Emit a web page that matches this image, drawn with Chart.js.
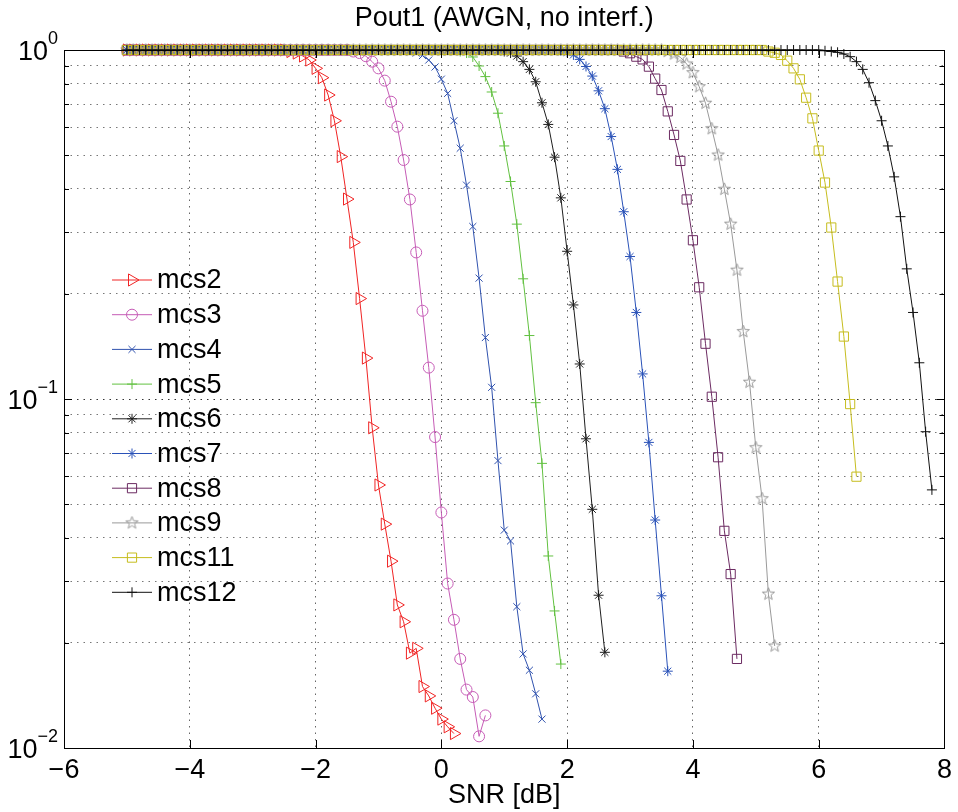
<!DOCTYPE html>
<html>
<head>
<meta charset="utf-8">
<title>Pout1 (AWGN, no interf.)</title>
<script src="https://cdn.jsdelivr.net/npm/chart.js@4.4.1/dist/chart.umd.min.js"></script>
<style>
  html, body { margin: 0; padding: 0; background: #fff; }
  #wrap { width: 958px; height: 812px; }
</style>
</head>
<body>
<div id="wrap"><canvas id="poutChart" width="958" height="812"></canvas></div>
<script>
// every curve is sampled from -5 dB in 0.1 dB steps; Pout sits at 1
// until the SNR where its own list starts
const snrFirst = -5;
const snrStep = 0.1;

const seriesNames = ["mcs2", "mcs3", "mcs4", "mcs5", "mcs6", "mcs7", "mcs8", "mcs9", "mcs11", "mcs12"];
const listStart = [-2.4, -1.4, -0.5, 0.3, 1.0, 1.9, 2.9, 3.6, 5.2, 6.1];

const mcs2 = [0.99, 0.98, 0.961, 0.936, 0.886, 0.833, 0.743, 0.627, 0.495, 0.374, 0.281, 0.194, 0.131, 0.0827,
  0.0567, 0.0438, 0.0343, 0.0257, 0.0230, 0.0187, 0.0193, 0.0150, 0.0141, 0.0130, 0.0121, 0.0115, 0.0110];
const mcs3 = [0.99, 0.98, 0.96, 0.926, 0.886, 0.817, 0.711, 0.603, 0.484, 0.373, 0.263, 0.179, 0.123, 0.0778,
  0.0473, 0.0296, 0.0233, 0.0180, 0.0147, 0.0140, 0.0108, 0.0124];
const mcs4 = [0.99, 0.98, 0.964, 0.936, 0.894, 0.825, 0.751, 0.627, 0.523, 0.410, 0.312, 0.222, 0.150, 0.108,
  0.0666, 0.0421, 0.0392, 0.0254, 0.0186, 0.0167, 0.0143, 0.0121];
const mcs5 = [0.99, 0.98, 0.955, 0.900, 0.839, 0.758, 0.659, 0.531, 0.420, 0.317, 0.221, 0.152, 0.0976, 0.0654,
  0.0355, 0.0247, 0.0174];
const mcs6 = [0.99, 0.98, 0.961, 0.926, 0.880, 0.811, 0.706, 0.612, 0.493, 0.377, 0.265, 0.186, 0.126, 0.0769,
  0.0483, 0.0274, 0.0188];
const mcs7 = [0.995, 0.985, 0.968, 0.940, 0.897, 0.842, 0.764, 0.679, 0.565, 0.455, 0.344, 0.256, 0.177, 0.118,
  0.0751, 0.0450, 0.0273, 0.0166];
const mcs8 = [0.99, 0.979, 0.957, 0.940, 0.896, 0.828, 0.768, 0.667, 0.571, 0.481, 0.373, 0.285, 0.209, 0.144,
  0.1015, 0.0681, 0.0419, 0.0315, 0.0180];
const mcs9 = [0.99, 0.974, 0.953, 0.912, 0.861, 0.785, 0.704, 0.595, 0.500, 0.399, 0.317, 0.234, 0.156, 0.1117,
  0.0725, 0.0518, 0.0276, 0.0196];
const mcs11 = [0.99, 0.982, 0.968, 0.932, 0.886, 0.824, 0.730, 0.637, 0.515, 0.417, 0.310, 0.217, 0.151, 0.0967,
  0.0599];
const mcs12 = [0.995, 0.99, 0.985, 0.974, 0.957, 0.926, 0.880, 0.806, 0.716, 0.627, 0.531, 0.433, 0.333, 0.236,
  0.177, 0.127, 0.0806, 0.0549];

const xTicks = [-6, -4, -2, 0, 2, 4, 6, 8];
const yTicks = [0.01, 0.02, 0.03, 0.04, 0.05, 0.06, 0.07, 0.08, 0.09,
  0.1, 0.2, 0.3, 0.4, 0.5, 0.6, 0.7, 0.8, 0.9, 1];
const yDecades = [1, 0.1, 0.01];
const yDecadeExp = ["0", "\u22121", "\u22122"];

const FONT = "'Liberation Sans', Arial, Helvetica, sans-serif";
const FS = 27;

function pentagram(color) {
  const c = document.createElement("canvas");
  c.width = 15; c.height = 15;
  const g = c.getContext("2d");
  g.strokeStyle = color;
  g.lineWidth = 1;
  g.beginPath();
  for (let i = 0; i < 10; i++) {
    const r = i % 2 ? 2.7 : 6.5;
    const a = -Math.PI / 2 + i * Math.PI / 5;
    g.lineTo(7.5 + r * Math.cos(a), 7.5 + r * Math.sin(a));
  }
  g.closePath();
  g.stroke();
  return c;
}

const looks = [
  { color: "#f02424", pointStyle: "triangle", rotation: 90, radius: 7 },
  { color: "#c65cb6", pointStyle: "circle", rotation: 0, radius: 5.5 },
  { color: "#3052ae", pointStyle: "crossRot", rotation: 0, radius: 5 },
  { color: "#62c140", pointStyle: "cross", rotation: 0, radius: 5 },
  { color: "#1e1e1e", pointStyle: "star", rotation: 0, radius: 5 },
  { color: "#2a52b8", pointStyle: "star", rotation: 0, radius: 5 },
  { color: "#6c2b62", pointStyle: "rect", rotation: 0, radius: 6.5 },
  { color: "#9a9a9a", pointStyle: pentagram("#9a9a9a"), rotation: 0, radius: 6 },
  { color: "#c6bd1e", pointStyle: "rect", rotation: 0, radius: 6.5 },
  { color: "#111111", pointStyle: "cross", rotation: 0, radius: 5 },
];

function curve(start, pout) {
  const pts = [];
  const nFlat = Math.round((start - snrFirst) / snrStep);
  for (let i = 0; i < nFlat; i++) pts.push({ x: +(snrFirst + i * snrStep).toFixed(1), y: 1 });
  pout.forEach((p, i) => pts.push({ x: +(start + i * snrStep).toFixed(1), y: p }));
  return pts;
}

const seriesValues = [mcs2, mcs3, mcs4, mcs5, mcs6, mcs7, mcs8, mcs9, mcs11, mcs12];

const datasets = seriesNames.map((name, i) => ({
  label: name,
  data: curve(listStart[i], seriesValues[i]),
  borderColor: looks[i].color,
  borderWidth: 1,
  pointStyle: looks[i].pointStyle,
  pointRotation: looks[i].rotation,
  pointRadius: looks[i].radius,
  pointBorderColor: looks[i].color,
  pointBackgroundColor: "rgba(0,0,0,0)",
  pointBorderWidth: 1,
  tension: 0,
  clip: false,
  order: seriesNames.length - i, // later curves on top, like the original
}));

// box, inward ticks, y labels with exponents and the legend inside the axes
const matlabFrame = {
  id: "matlabFrame",
  afterDraw(chart) {
    const { ctx, chartArea: a, scales: { x, y } } = chart;
    ctx.save();
    ctx.strokeStyle = "#000";
    ctx.lineWidth = 1;
    ctx.strokeRect(Math.round(a.left) + 0.5, Math.round(a.top) + 0.5,
      Math.round(a.right - a.left), Math.round(a.bottom - a.top));
    ctx.beginPath();
    xTicks.forEach(v => {
      const px = Math.round(x.getPixelForValue(v)) + 0.5;
      ctx.moveTo(px, a.bottom); ctx.lineTo(px, a.bottom - 8);
      ctx.moveTo(px, a.top); ctx.lineTo(px, a.top + 8);
    });
    yTicks.forEach(v => {
      const py = Math.round(y.getPixelForValue(v)) + 0.5;
      const len = yDecades.includes(v) ? 8 : 5;
      ctx.moveTo(a.left, py); ctx.lineTo(a.left + len, py);
      ctx.moveTo(a.right, py); ctx.lineTo(a.right - len, py);
    });
    ctx.stroke();

    // 10^n labels
    ctx.fillStyle = "#000";
    ctx.textBaseline = "middle";
    yDecades.forEach((v, i) => {
      const py = y.getPixelForValue(v);
      ctx.font = "18px " + FONT;
      const wExp = ctx.measureText(yDecadeExp[i]).width;
      const right = a.left - 6;
      ctx.textAlign = "left";
      ctx.fillText(yDecadeExp[i], right - wExp, py - 11);
      ctx.font = FS + "px " + FONT;
      ctx.textAlign = "right";
      ctx.fillText("10", right - wExp, py + 3);
    });

    // legend
    ctx.font = FS + "px " + FONT;
    ctx.textAlign = "left";
    seriesNames.forEach((name, i) => {
      const ly = 280 + i * 34.7;
      ctx.strokeStyle = looks[i].color;
      ctx.lineWidth = 1;
      ctx.beginPath();
      ctx.moveTo(112, ly); ctx.lineTo(152, ly);
      ctx.stroke();
      ctx.fillStyle = "rgba(0,0,0,0)";
      Chart.helpers.drawPoint(ctx, {
        pointStyle: looks[i].pointStyle, rotation: looks[i].rotation,
        radius: looks[i].radius, borderWidth: 1,
      }, 132, ly);
      ctx.fillStyle = "#000";
      ctx.fillText(name, 157, ly + 1);
    });
    ctx.restore();
  },
};

new Chart("poutChart", {
  type: "line",
  data: { datasets: datasets },
  options: {
    responsive: false,
    animation: false,
    layout: { padding: { left: 0, right: 12, top: 0, bottom: 0 } },
    plugins: {
      legend: { display: false },
      tooltip: { enabled: false },
      title: {
        display: true,
        fullSize: false, // centre over the axes, not the whole canvas
        text: "Pout1 (AWGN, no interf.)",
        color: "#000",
        font: { family: FONT, size: FS, weight: "normal" },
        padding: { top: 2.4, bottom: 15.2 },
      },
    },
    scales: {
      x: {
        type: "linear",
        min: -6,
        max: 8,
        afterBuildTicks: (scale) => { scale.ticks = xTicks.map(v => ({ value: v })); },
        afterFit: (scale) => { scale.height = 64; },
        ticks: {
          color: "#000",
          font: { family: FONT, size: FS },
          padding: 6,
          callback: (v) => String(v).replace("-", "\u2212"),
        },
        grid: { color: "#666", lineWidth: 1, drawTicks: false },
        border: { display: false, dash: [1.5, 5] },
        title: {
          display: true,
          text: "SNR [dB]",
          color: "#000",
          font: { family: FONT, size: FS },
          padding: { top: 0, bottom: 0 },
        },
      },
      y: {
        type: "logarithmic",
        min: 0.01,
        max: 1,
        afterBuildTicks: (scale) => { scale.ticks = yTicks.map(v => ({ value: v, major: yDecades.includes(v) })); },
        afterFit: (scale) => { scale.width = 64; },
        ticks: { display: false },
        grid: {
          color: (c) => (c.tick && yDecades.includes(c.tick.value) ? "#333" : "#777"),
          lineWidth: 1,
          drawTicks: false,
        },
        border: { display: false, dash: [1.5, 5] },
      },
    },
  },
  plugins: [matlabFrame],
});
</script>
</body>
</html>
